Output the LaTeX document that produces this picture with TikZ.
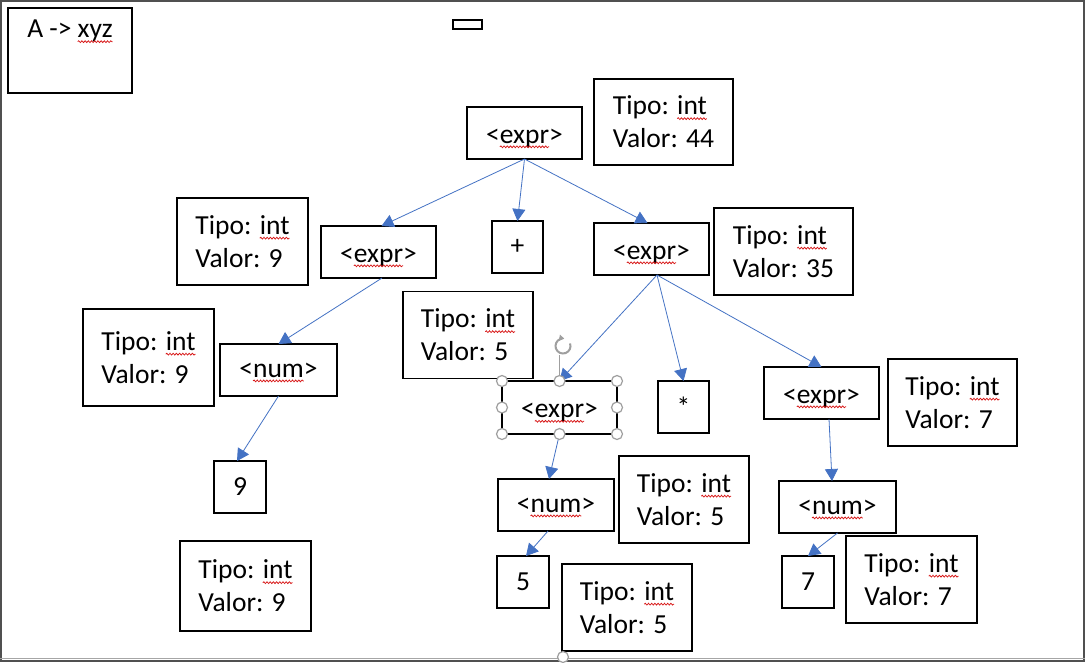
\documentclass[tikz,border=0pt]{standalone}
\usepackage{fontspec}
\setmainfont{Carlito}
\usetikzlibrary{arrows.meta,decorations.pathmorphing}
\definecolor{arr}{HTML}{4472C4}
\definecolor{sqred}{HTML}{D81818}
\definecolor{frm}{HTML}{505050}
\newcommand\sq[1]{\tikz[baseline=(w.base)]{\node[inner sep=0pt,outer sep=0pt,draw=none,fill=none,minimum width=0pt,minimum height=0pt,minimum size=0pt,text height=,text depth=](w){#1};\draw[overlay,sqred,line width=0.75pt,decorate,decoration={snake,amplitude=0.9pt,segment length=3.2pt}]([yshift=-3.8pt]w.base west)--([yshift=-3.8pt]w.base east);}}
\tikzset{
  bx/.style={draw=black,line width=1.2pt,inner sep=0pt,outer sep=0pt,font=\fontsize{27.5}{33}\selectfont,align=center},
  ebox/.style={bx,minimum width=115pt,minimum height=52pt,text height=20pt,text depth=0pt},
  nbox/.style={bx,minimum width=117pt,minimum height=52pt},
  sbox/.style={bx,minimum width=52pt,minimum height=52pt},
  tbox/.style={bx,align=left,minimum width=130pt,minimum height=87pt},
  ar/.style={draw=arr,line width=0.8pt,-{Triangle[length=12pt,width=13pt]}},
  hd/.style={circle,draw=gray!75,fill=white,line width=1.2pt,minimum size=11pt,inner sep=0pt}
}
\begin{document}
\begin{tikzpicture}[x=1pt,y=-1pt]
\useasboundingbox (0,0) rectangle (1085,662);
\fill[white] (0,0) rectangle (1085,662);
% frame
\draw[frm,line width=2pt] (0,1) -- (1085,1);
\draw[frm,line width=2pt] (1,0) -- (1,662);
\draw[frm,line width=2pt] (1084,0) -- (1084,662);
\draw[gray!70,line width=1pt] (0,658) -- (1085,658);
\draw[frm,line width=2pt] (0,661) -- (1085,661);

% header boxes
\node[bx,minimum width=124pt,minimum height=85pt] (rule) at (70,50.5) {A -> \sq{xyz}\\\strut};
\node[bx,minimum width=29pt,minimum height=9pt] (tiny) at (467.5,24.5) {};

% tree
\node[ebox] (e0) at (524.5,133) {<\sq{expr}>};
\node[tbox,minimum width=139pt,minimum height=86pt] (t44) at (663.5,122) {Tipo: \sq{int}\\Valor: 44};
\node[sbox,minimum width=51pt] (plus) at (517.5,247) {+};
\node[ebox] (eR) at (651.5,249) {<\sq{expr}>};
\node[tbox,minimum width=139pt] (t35) at (783.5,251.5) {Tipo: \sq{int}\\Valor: 35};
\node[ebox] (eL) at (378.5,252) {<\sq{expr}>};
\node[tbox,minimum width=131pt] (t9a) at (242.5,241.5) {Tipo: \sq{int}\\Valor: 9};
\node[tbox,minimum width=131pt,minimum height=97pt] (t9b) at (148.5,357.5) {Tipo: \sq{int}\\Valor: 9};
\node[nbox] (nL) at (278.5,370) {<\sq{num}>};
\node[sbox] (n9) at (240,487) {9};
\node[tbox,minimum width=131pt,minimum height=90pt] (t9c) at (245.5,586) {Tipo: \sq{int}\\Valor: 9};
\node[tbox] (t5a) at (468,335) {Tipo: \sq{int}\\Valor: 5};
\node[ebox,minimum height=53pt] (eM) at (559.5,407.5) {<\sq{expr}>};
\node[sbox,minimum width=51pt] (star) at (683.5,407) {*};
\node[ebox] (eRR) at (821.5,393) {<\sq{expr}>};
\node[tbox,minimum width=129pt] (t7a) at (952.5,402.5) {Tipo: \sq{int}\\Valor: 7};
\node[nbox] (nR) at (837.5,507) {<\sq{num}>};
\node[sbox] (n7) at (808,582) {7};
\node[tbox,minimum width=131pt] (t7b) at (911.5,579.5) {Tipo: \sq{int}\\Valor: 7};
\node[nbox,minimum width=116pt] (nM) at (556,505) {<\sq{num}>};
\node[tbox] (t5b) at (684,499.5) {Tipo: \sq{int}\\Valor: 5};
\node[sbox] (n5) at (523,582) {5};
\node[tbox] (t5c) at (627,607.5) {Tipo: \sq{int}\\Valor: 5};

% connectors
\coordinate (eRs) at ([xshift=5.5pt]eR.south);
\draw[ar] (e0.south) -- ([xshift=3pt]eL.north);
\draw[ar] (e0.south) -- (plus.north);
\draw[ar] (e0.south) -- ([xshift=-4pt]eR.north);
\draw[ar] ([xshift=3.5pt]eL.south) -- (nL.north);
\draw[ar] (nL.south) -- ([xshift=-3pt]n9.north);
\draw[ar] (eRs) -- (eM.north);
\draw[ar] (eRs) -- (star.north);
\draw[ar] (eRs) -- (eRR.north);
\draw[ar] (eM.south) -- ([xshift=-7pt]nM.north);
\draw[ar] ([xshift=-8pt]nM.south) -- ([xshift=3pt]n5.north);
\draw[ar] ([xshift=7.5pt]eRR.south) -- ([xshift=-5.5pt]nR.north);
\draw[ar] (nR.south) -- (n7.north);

% selection handles of eM
\draw[gray!75,line width=1.2pt] (559.5,355) -- (559.5,377);
\draw[gray!75,line width=2pt,-{Triangle[length=5pt,width=6pt]}] (563,346) ++(-20:7.5) arc (-20:280:7.5);
\foreach \p in {(eM.north west),(eM.north),(eM.north east),(eM.west),(eM.east),(eM.south west),(eM.south),(eM.south east)}
  \node[hd] at \p {};
\node[hd] (bh) at (563,657) {};
\end{tikzpicture}
\end{document}
